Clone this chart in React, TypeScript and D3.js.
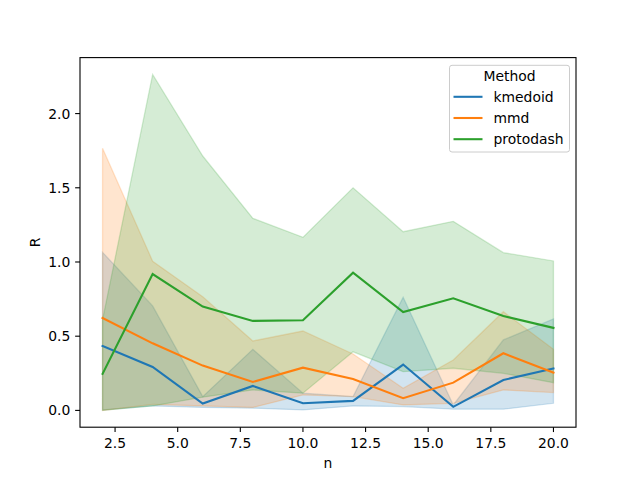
import * as d3 from 'd3';
import React from 'react';

// sample sizes on the x axis
const ns = [2, 4, 6, 8, 10, 12, 14, 16, 18, 20];

// mean R and confidence band per method
const kmedoidMean = [0.434, 0.293, 0.046, 0.165, 0.048, 0.064, 0.309, 0.024, 0.205, 0.282];
const kmedoidLo = [0.003, 0.03, 0.02, 0.015, 0.003, 0.03, 0.026, 0.008, 0.008, 0.048];
const kmedoidHi = [1.065, 0.704, 0.093, 0.412, 0.116, 0.093, 0.762, 0.037, 0.475, 0.616];

const mmdMean = [0.623, 0.452, 0.302, 0.192, 0.288, 0.212, 0.082, 0.187, 0.385, 0.255];
const mmdLo = [0.0, 0.04, 0.03, 0.02, 0.104, 0.093, 0.037, 0.048, 0.138, 0.12];
const mmdHi = [1.766, 1.005, 0.766, 0.468, 0.535, 0.38, 0.149, 0.34, 0.665, 0.412];

const protodashMean = [0.246, 0.919, 0.70, 0.603, 0.607, 0.928, 0.663, 0.755, 0.636, 0.556];
const protodashLo = [0.0, 0.03, 0.089, 0.138, 0.116, 0.395, 0.261, 0.284, 0.25, 0.187];
const protodashHi = [0.61, 2.264, 1.714, 1.294, 1.166, 1.50, 1.204, 1.274, 1.063, 1.007];

const xTicks = [2.5, 5.0, 7.5, 10.0, 12.5, 15.0, 17.5, 20.0];
const yTicks = [0.0, 0.5, 1.0, 1.5, 2.0];

const methods = ['kmedoid', 'mmd', 'protodash'];
const colors = ['#1f77b4', '#ff7f0e', '#2ca02c'];

const series = [
    {name: methods[0], color: colors[0], mean: kmedoidMean, lo: kmedoidLo, hi: kmedoidHi},
    {name: methods[1], color: colors[1], mean: mmdMean, lo: mmdLo, hi: mmdHi},
    {name: methods[2], color: colors[2], mean: protodashMean, lo: protodashLo, hi: protodashHi},
];

const FONT = 'DejaVu Sans, sans-serif';

export default function App() {
    const W = 640, H = 480;
    const margin = {top: 57.6, right: 64, bottom: 52.8, left: 80};
    const x0 = margin.left, x1 = W - margin.right;
    const y0 = H - margin.bottom, y1 = margin.top;

    // matplotlib style 5% padding
    const xMin = d3.min(ns)!, xMax = d3.max(ns)!;
    const xPad = (xMax - xMin) * 0.05;
    const allY = series.flatMap(s => [...s.lo, ...s.hi, ...s.mean]);
    const yMin = d3.min(allY)!, yMax = d3.max(allY)!;
    const yPad = (yMax - yMin) * 0.05;

    const x = d3.scaleLinear().domain([xMin - xPad, xMax + xPad]).range([x0, x1]);
    const y = d3.scaleLinear().domain([yMin - yPad, yMax + yPad]).range([y0, y1]);

    const line = d3.line<number>()
        .x((_, i) => x(ns[i]))
        .y(d => y(d));

    const band = (lo: number[], hi: number[]) => d3.area<number>()
        .x((_, i) => x(ns[i]))
        .y0((_, i) => y(lo[i]))
        .y1((_, i) => y(hi[i]))(ns);

    const tickLen = 4.86;
    const fs = 13.9;

    // legend box
    const lgX = 449.5, lgY = 65.3, lgW = 120, lgH = 86.7;

    return (
        <svg width={W} height={H} style={{position: 'absolute', left: 0, top: 0}} fontFamily={FONT}>
            <rect x={0} y={0} width={W} height={H} fill="#fff" />
            {series.map(s => (
                <path key={s.name + '-band'} d={band(s.lo, s.hi)!} fill={s.color} fillOpacity={0.2}
                      stroke={s.color} strokeOpacity={0.2} strokeWidth={1.3} />
            ))}
            {series.map(s => (
                <path key={s.name + '-line'} d={line(s.mean)!} fill="none" stroke={s.color}
                      strokeWidth={2.08} strokeLinecap="square" />
            ))}

            {/* frame */}
            <rect x={x0} y={y1} width={x1 - x0} height={y0 - y1} fill="none" stroke="#000" strokeWidth={1.1} />

            {/* x axis */}
            {xTicks.map(t => (
                <g key={'x' + t}>
                    <line x1={x(t)} x2={x(t)} y1={y0} y2={y0 + tickLen} stroke="#000" strokeWidth={1.1} />
                    <text x={x(t)} y={y0 + tickLen + 4.9 + fs * 0.76} textAnchor="middle" fontSize={fs} fill="#000">
                        {t.toFixed(1)}
                    </text>
                </g>
            ))}
            <text x={(x0 + x1) / 2} y={468} textAnchor="middle" fontSize={fs}>n</text>

            {/* y axis */}
            {yTicks.map(t => (
                <g key={'y' + t}>
                    <line x1={x0 - tickLen} x2={x0} y1={y(t)} y2={y(t)} stroke="#000" strokeWidth={1.1} />
                    <text x={x0 - tickLen - 4.9} y={y(t)} dy="0.36em" textAnchor="end" fontSize={fs} fill="#000">
                        {t.toFixed(1)}
                    </text>
                </g>
            ))}
            <text transform={`translate(40,${(y0 + y1) / 2}) rotate(-90)`} textAnchor="middle" fontSize={fs}>R</text>

            {/* legend */}
            <rect x={lgX} y={lgY} width={lgW} height={lgH} rx={2.5} fill="#fff" fillOpacity={0.8}
                  stroke="#cccccc" strokeWidth={1} />
            <text x={lgX + lgW / 2} y={lgY + 15.8} textAnchor="middle" fontSize={fs}>Method</text>
            {series.map((s, i) => {
                const ry = lgY + 31.5 + i * 21.2;
                return (
                    <g key={s.name + '-lg'}>
                        <line x1={lgX + 4} x2={lgX + 33} y1={ry} y2={ry} stroke={s.color} strokeWidth={2.08} />
                        <text x={lgX + 44} y={ry} dy="0.36em" fontSize={fs}>{s.name}</text>
                    </g>
                );
            })}
        </svg>
    );
}
